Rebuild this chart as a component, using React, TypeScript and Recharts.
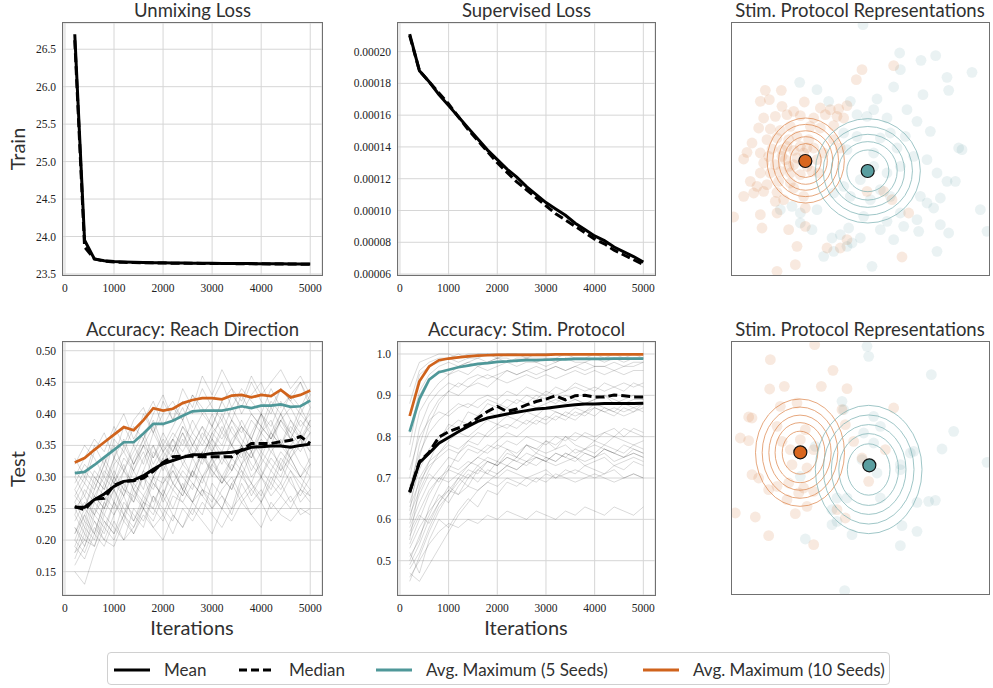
import React from 'react';
import { LineChart, Line, XAxis, YAxis, CartesianGrid, ScatterChart, Scatter } from 'recharts';

const ORANGE = '#D0631C';
const TEAL = '#4F9899';
const SANS = 'Lato, "Open Sans", sans-serif';
const SERIF = '"Liberation Serif", "DejaVu Serif", serif';

const ITER = [200, 400, 600, 800, 1000, 1200, 1400, 1600, 1800, 2000, 2200, 2400, 2600, 2800, 3000, 3200, 3400, 3600, 3800, 4000, 4200, 4400, 4600, 4800, 5000];
const X_TICKS = [0, 1000, 2000, 3000, 4000, 5000];

// Unmixing loss (train)
const UNMIX_MEAN = [26.70, 23.95, 23.70, 23.675, 23.665, 23.66, 23.655, 23.652, 23.65, 23.648, 23.646, 23.645, 23.644, 23.643, 23.642, 23.641, 23.64, 23.639, 23.638, 23.637, 23.636, 23.635, 23.634, 23.633, 23.632];
const UNMIX_MEDIAN = [26.62, 23.86, 23.70, 23.67, 23.66, 23.655, 23.652, 23.65, 23.648, 23.646, 23.644, 23.643, 23.642, 23.641, 23.64, 23.639, 23.638, 23.637, 23.636, 23.635, 23.634, 23.633, 23.632, 23.631, 23.63];

// Supervised loss (train)
const SUP_MEAN = [0.000211, 0.000188, 0.000181, 0.000173, 0.000166, 0.000159, 0.000152, 0.000145, 0.000138, 0.000132, 0.000126, 0.000121, 0.000115, 0.000110, 0.000105, 0.000101, 0.000097, 0.000092, 0.000088, 0.000084, 0.000081, 0.000077, 0.000074, 0.000071, 0.0000675];
const SUP_MEDIAN = [0.000210, 0.000188, 0.000181, 0.000174, 0.000167, 0.000159, 0.000151, 0.000144, 0.000137, 0.000130, 0.000124, 0.000118, 0.000113, 0.000108, 0.000103, 0.000098, 0.000094, 0.000090, 0.000086, 0.000082, 0.000079, 0.000075, 0.000072, 0.000069, 0.000066];

// Accuracy: reach direction (test)
const REACH_MEAN = [0.252, 0.252, 0.264, 0.273, 0.285, 0.293, 0.295, 0.302, 0.312, 0.321, 0.326, 0.331, 0.335, 0.335, 0.337, 0.338, 0.339, 0.342, 0.347, 0.348, 0.349, 0.349, 0.347, 0.350, 0.352];
const REACH_MEDIAN = [0.253, 0.248, 0.265, 0.266, 0.287, 0.293, 0.294, 0.298, 0.309, 0.323, 0.332, 0.333, 0.333, 0.332, 0.332, 0.332, 0.332, 0.343, 0.353, 0.353, 0.353, 0.356, 0.358, 0.364, 0.353];
const REACH_MAX5 = [0.306, 0.308, 0.319, 0.331, 0.343, 0.355, 0.355, 0.369, 0.384, 0.384, 0.389, 0.397, 0.404, 0.405, 0.405, 0.405, 0.408, 0.412, 0.409, 0.413, 0.413, 0.415, 0.411, 0.412, 0.421];
const REACH_MAX10 = [0.323, 0.330, 0.343, 0.355, 0.367, 0.379, 0.374, 0.390, 0.409, 0.405, 0.408, 0.417, 0.422, 0.425, 0.425, 0.423, 0.429, 0.430, 0.426, 0.430, 0.428, 0.438, 0.426, 0.430, 0.437];
const REACH_SEEDS = [
  [0.25, 0.22, 0.27, 0.30, 0.28, 0.31, 0.29, 0.33, 0.35, 0.32, 0.36, 0.34, 0.37, 0.35, 0.38, 0.36, 0.39, 0.37, 0.40, 0.38, 0.36, 0.39, 0.41, 0.38, 0.40],
  [0.20, 0.24, 0.21, 0.26, 0.24, 0.28, 0.27, 0.25, 0.30, 0.29, 0.31, 0.28, 0.33, 0.30, 0.32, 0.34, 0.31, 0.35, 0.33, 0.36, 0.34, 0.32, 0.35, 0.37, 0.34],
  [0.30, 0.33, 0.36, 0.34, 0.38, 0.35, 0.39, 0.41, 0.37, 0.40, 0.42, 0.39, 0.43, 0.41, 0.38, 0.42, 0.44, 0.40, 0.43, 0.45, 0.41, 0.44, 0.42, 0.40, 0.43],
  [0.18, 0.20, 0.19, 0.23, 0.21, 0.24, 0.22, 0.26, 0.25, 0.23, 0.27, 0.26, 0.24, 0.28, 0.27, 0.25, 0.29, 0.26, 0.28, 0.30, 0.27, 0.29, 0.26, 0.28, 0.27],
  [0.27, 0.25, 0.30, 0.28, 0.32, 0.34, 0.31, 0.35, 0.33, 0.37, 0.34, 0.38, 0.36, 0.33, 0.37, 0.39, 0.35, 0.38, 0.36, 0.40, 0.37, 0.35, 0.39, 0.36, 0.38],
  [0.15, 0.13, 0.18, 0.22, 0.20, 0.24, 0.21, 0.25, 0.23, 0.27, 0.24, 0.22, 0.26, 0.28, 0.25, 0.27, 0.24, 0.29, 0.26, 0.28, 0.25, 0.27, 0.30, 0.26, 0.28],
  [0.32, 0.35, 0.33, 0.30, 0.36, 0.34, 0.38, 0.36, 0.40, 0.43, 0.39, 0.42, 0.40, 0.44, 0.41, 0.39, 0.43, 0.41, 0.45, 0.42, 0.40, 0.44, 0.42, 0.45, 0.41],
  [0.22, 0.19, 0.24, 0.22, 0.26, 0.23, 0.28, 0.25, 0.29, 0.27, 0.31, 0.28, 0.26, 0.30, 0.33, 0.29, 0.31, 0.34, 0.30, 0.32, 0.35, 0.31, 0.33, 0.30, 0.32],
  [0.24, 0.28, 0.26, 0.31, 0.29, 0.27, 0.32, 0.35, 0.31, 0.34, 0.32, 0.36, 0.33, 0.37, 0.35, 0.32, 0.36, 0.38, 0.34, 0.37, 0.39, 0.35, 0.38, 0.36, 0.39],
  [0.19, 0.17, 0.21, 0.19, 0.23, 0.20, 0.22, 0.25, 0.22, 0.24, 0.21, 0.25, 0.23, 0.26, 0.24, 0.22, 0.25, 0.27, 0.24, 0.26, 0.23, 0.25, 0.27, 0.24, 0.25],
  [0.28, 0.31, 0.29, 0.33, 0.30, 0.35, 0.32, 0.36, 0.39, 0.35, 0.38, 0.41, 0.37, 0.40, 0.38, 0.42, 0.39, 0.43, 0.40, 0.38, 0.42, 0.40, 0.43, 0.41, 0.44],
  [0.21, 0.25, 0.23, 0.21, 0.26, 0.24, 0.29, 0.27, 0.25, 0.30, 0.28, 0.31, 0.29, 0.27, 0.32, 0.30, 0.33, 0.31, 0.29, 0.33, 0.31, 0.34, 0.32, 0.30, 0.33],
  [0.26, 0.23, 0.28, 0.32, 0.29, 0.33, 0.31, 0.28, 0.34, 0.32, 0.35, 0.33, 0.30, 0.34, 0.36, 0.33, 0.35, 0.32, 0.36, 0.34, 0.37, 0.35, 0.33, 0.36, 0.34],
  [0.17, 0.21, 0.19, 0.24, 0.22, 0.20, 0.25, 0.23, 0.27, 0.24, 0.28, 0.26, 0.29, 0.27, 0.25, 0.28, 0.30, 0.27, 0.29, 0.26, 0.30, 0.28, 0.31, 0.29, 0.27],
  [0.31, 0.29, 0.34, 0.37, 0.33, 0.38, 0.35, 0.40, 0.37, 0.42, 0.39, 0.44, 0.41, 0.46, 0.43, 0.47, 0.44, 0.42, 0.46, 0.43, 0.45, 0.47, 0.44, 0.46, 0.43],
  [0.23, 0.26, 0.24, 0.27, 0.25, 0.29, 0.26, 0.30, 0.28, 0.32, 0.29, 0.27, 0.31, 0.34, 0.30, 0.33, 0.31, 0.35, 0.32, 0.30, 0.34, 0.36, 0.33, 0.35, 0.37],
  [0.20, 0.18, 0.22, 0.20, 0.19, 0.23, 0.21, 0.24, 0.22, 0.20, 0.24, 0.22, 0.25, 0.23, 0.21, 0.25, 0.23, 0.26, 0.24, 0.22, 0.26, 0.24, 0.23, 0.25, 0.24],
  [0.29, 0.32, 0.30, 0.28, 0.33, 0.36, 0.32, 0.35, 0.38, 0.34, 0.37, 0.35, 0.39, 0.36, 0.40, 0.37, 0.41, 0.38, 0.36, 0.40, 0.38, 0.42, 0.39, 0.37, 0.41],
  [0.25, 0.27, 0.24, 0.29, 0.26, 0.31, 0.28, 0.26, 0.30, 0.33, 0.29, 0.32, 0.30, 0.34, 0.31, 0.29, 0.33, 0.35, 0.31, 0.34, 0.32, 0.30, 0.34, 0.36, 0.32],
  [0.18, 0.22, 0.20, 0.25, 0.28, 0.24, 0.27, 0.30, 0.26, 0.29, 0.32, 0.28, 0.31, 0.29, 0.33, 0.30, 0.28, 0.32, 0.34, 0.30, 0.33, 0.31, 0.35, 0.32, 0.30],
  [0.33, 0.30, 0.35, 0.32, 0.37, 0.40, 0.36, 0.39, 0.42, 0.38, 0.41, 0.39, 0.43, 0.40, 0.42, 0.45, 0.41, 0.44, 0.42, 0.40, 0.44, 0.41, 0.43, 0.45, 0.42],
  [0.22, 0.20, 0.25, 0.23, 0.21, 0.26, 0.24, 0.22, 0.27, 0.25, 0.23, 0.28, 0.26, 0.24, 0.29, 0.27, 0.25, 0.30, 0.28, 0.26, 0.29, 0.27, 0.25, 0.28, 0.26],
  [0.27, 0.30, 0.28, 0.32, 0.35, 0.31, 0.34, 0.37, 0.33, 0.36, 0.34, 0.38, 0.35, 0.33, 0.37, 0.35, 0.39, 0.36, 0.34, 0.38, 0.36, 0.40, 0.37, 0.35, 0.39],
  [0.16, 0.19, 0.23, 0.20, 0.24, 0.27, 0.23, 0.26, 0.24, 0.28, 0.25, 0.29, 0.26, 0.30, 0.27, 0.25, 0.29, 0.31, 0.27, 0.30, 0.28, 0.32, 0.29, 0.27, 0.30],
  [0.30, 0.27, 0.31, 0.29, 0.33, 0.31, 0.35, 0.32, 0.37, 0.34, 0.36, 0.39, 0.35, 0.38, 0.36, 0.40, 0.37, 0.35, 0.39, 0.37, 0.41, 0.38, 0.36, 0.40, 0.38],
  [0.24, 0.21, 0.26, 0.24, 0.28, 0.25, 0.23, 0.27, 0.30, 0.26, 0.29, 0.27, 0.31, 0.28, 0.26, 0.30, 0.28, 0.32, 0.29, 0.27, 0.31, 0.29, 0.33, 0.30, 0.28],
  [0.21, 0.24, 0.27, 0.25, 0.29, 0.32, 0.28, 0.31, 0.35, 0.31, 0.34, 0.37, 0.33, 0.36, 0.34, 0.38, 0.35, 0.33, 0.37, 0.40, 0.36, 0.39, 0.37, 0.41, 0.38],
  [0.26, 0.29, 0.27, 0.25, 0.30, 0.28, 0.26, 0.31, 0.29, 0.27, 0.32, 0.30, 0.28, 0.33, 0.31, 0.29, 0.32, 0.30, 0.34, 0.31, 0.29, 0.33, 0.31, 0.28, 0.32],
  [0.19, 0.23, 0.21, 0.26, 0.30, 0.27, 0.31, 0.34, 0.30, 0.33, 0.36, 0.32, 0.35, 0.38, 0.34, 0.37, 0.35, 0.39, 0.36, 0.33, 0.37, 0.40, 0.36, 0.39, 0.37],
  [0.28, 0.25, 0.29, 0.27, 0.31, 0.28, 0.33, 0.36, 0.32, 0.35, 0.33, 0.37, 0.34, 0.32, 0.36, 0.34, 0.38, 0.35, 0.33, 0.37, 0.35, 0.39, 0.36, 0.34, 0.37],
];

// Accuracy: stim. protocol (test)
const STIM_MEAN = [0.667, 0.737, 0.760, 0.784, 0.798, 0.812, 0.825, 0.837, 0.845, 0.850, 0.855, 0.859, 0.863, 0.867, 0.869, 0.872, 0.875, 0.877, 0.879, 0.879, 0.880, 0.880, 0.880, 0.880, 0.881];
const STIM_MEDIAN = [0.665, 0.740, 0.762, 0.799, 0.812, 0.821, 0.829, 0.845, 0.861, 0.873, 0.861, 0.867, 0.877, 0.885, 0.891, 0.899, 0.889, 0.899, 0.900, 0.896, 0.896, 0.901, 0.899, 0.896, 0.896];
const STIM_MAX5 = [0.812, 0.891, 0.938, 0.956, 0.962, 0.968, 0.972, 0.976, 0.978, 0.981, 0.982, 0.984, 0.985, 0.985, 0.986, 0.987, 0.987, 0.988, 0.988, 0.988, 0.988, 0.989, 0.989, 0.989, 0.989];
const STIM_MAX10 = [0.850, 0.934, 0.970, 0.985, 0.989, 0.992, 0.994, 0.996, 0.997, 0.998, 0.998, 0.998, 0.998, 0.998, 0.998, 0.999, 0.999, 0.999, 0.999, 0.999, 0.999, 0.999, 0.999, 0.999, 0.999];
const STIM_SEEDS = [
  [0.92, 0.98, 0.99, 1.00, 1.00, 0.99, 1.00, 1.00, 1.00, 1.00, 1.00, 1.00, 1.00, 1.00, 1.00, 1.00, 1.00, 1.00, 1.00, 1.00, 1.00, 1.00, 1.00, 1.00, 1.00],
  [0.85, 0.95, 0.97, 0.98, 0.99, 0.98, 0.99, 0.99, 1.00, 0.99, 1.00, 1.00, 0.99, 1.00, 1.00, 1.00, 1.00, 1.00, 1.00, 1.00, 1.00, 1.00, 1.00, 1.00, 1.00],
  [0.78, 0.90, 0.94, 0.96, 0.95, 0.97, 0.98, 0.97, 0.98, 0.99, 0.98, 0.99, 0.99, 0.98, 0.99, 0.99, 1.00, 0.99, 0.99, 1.00, 0.99, 1.00, 0.99, 1.00, 0.99],
  [0.62, 0.75, 0.83, 0.88, 0.91, 0.93, 0.92, 0.94, 0.95, 0.94, 0.96, 0.95, 0.96, 0.97, 0.96, 0.97, 0.96, 0.97, 0.98, 0.97, 0.97, 0.98, 0.97, 0.98, 0.98],
  [0.55, 0.68, 0.74, 0.79, 0.83, 0.82, 0.86, 0.85, 0.88, 0.87, 0.89, 0.88, 0.90, 0.89, 0.91, 0.90, 0.91, 0.92, 0.91, 0.92, 0.91, 0.92, 0.93, 0.92, 0.93],
  [0.48, 0.52, 0.58, 0.63, 0.66, 0.70, 0.68, 0.72, 0.74, 0.73, 0.76, 0.75, 0.78, 0.77, 0.79, 0.78, 0.80, 0.79, 0.81, 0.80, 0.81, 0.82, 0.80, 0.82, 0.81],
  [0.52, 0.47, 0.55, 0.60, 0.58, 0.62, 0.65, 0.63, 0.67, 0.66, 0.69, 0.68, 0.70, 0.69, 0.71, 0.70, 0.72, 0.71, 0.73, 0.72, 0.71, 0.73, 0.72, 0.74, 0.73],
  [0.58, 0.64, 0.69, 0.72, 0.75, 0.74, 0.77, 0.76, 0.78, 0.77, 0.79, 0.78, 0.80, 0.79, 0.78, 0.80, 0.79, 0.81, 0.80, 0.79, 0.81, 0.80, 0.82, 0.81, 0.80],
  [0.46, 0.50, 0.54, 0.57, 0.59, 0.58, 0.60, 0.59, 0.61, 0.60, 0.62, 0.61, 0.60, 0.62, 0.61, 0.60, 0.62, 0.61, 0.63, 0.62, 0.61, 0.63, 0.62, 0.61, 0.63],
  [0.70, 0.82, 0.88, 0.91, 0.93, 0.92, 0.94, 0.95, 0.94, 0.95, 0.96, 0.95, 0.96, 0.95, 0.96, 0.97, 0.96, 0.97, 0.96, 0.97, 0.97, 0.96, 0.97, 0.97, 0.98],
  [0.60, 0.70, 0.74, 0.76, 0.78, 0.77, 0.79, 0.81, 0.80, 0.82, 0.83, 0.82, 0.84, 0.83, 0.85, 0.84, 0.86, 0.85, 0.86, 0.87, 0.86, 0.87, 0.86, 0.87, 0.88],
  [0.50, 0.56, 0.61, 0.66, 0.64, 0.68, 0.71, 0.69, 0.72, 0.71, 0.73, 0.72, 0.74, 0.75, 0.74, 0.76, 0.75, 0.74, 0.76, 0.75, 0.77, 0.76, 0.75, 0.77, 0.76],
  [0.66, 0.78, 0.85, 0.89, 0.91, 0.90, 0.92, 0.93, 0.92, 0.94, 0.93, 0.94, 0.95, 0.94, 0.95, 0.94, 0.95, 0.96, 0.95, 0.96, 0.95, 0.96, 0.95, 0.96, 0.96],
  [0.54, 0.60, 0.66, 0.70, 0.72, 0.71, 0.73, 0.75, 0.74, 0.73, 0.75, 0.74, 0.76, 0.75, 0.74, 0.76, 0.75, 0.77, 0.76, 0.75, 0.77, 0.76, 0.75, 0.76, 0.75],
  [0.47, 0.45, 0.49, 0.53, 0.57, 0.61, 0.64, 0.67, 0.69, 0.71, 0.73, 0.72, 0.74, 0.73, 0.75, 0.74, 0.76, 0.75, 0.77, 0.76, 0.78, 0.77, 0.76, 0.78, 0.77],
  [0.75, 0.86, 0.90, 0.93, 0.95, 0.96, 0.95, 0.97, 0.96, 0.97, 0.98, 0.97, 0.98, 0.98, 0.97, 0.98, 0.99, 0.98, 0.98, 0.99, 0.98, 0.99, 0.98, 0.99, 0.99],
  [0.57, 0.62, 0.67, 0.70, 0.69, 0.71, 0.70, 0.72, 0.71, 0.70, 0.72, 0.71, 0.70, 0.71, 0.72, 0.70, 0.71, 0.72, 0.71, 0.70, 0.71, 0.72, 0.70, 0.71, 0.70],
  [0.64, 0.72, 0.77, 0.80, 0.82, 0.84, 0.83, 0.85, 0.86, 0.85, 0.87, 0.86, 0.88, 0.87, 0.88, 0.89, 0.88, 0.89, 0.88, 0.89, 0.90, 0.89, 0.88, 0.89, 0.89],
  [0.51, 0.55, 0.63, 0.68, 0.72, 0.76, 0.79, 0.78, 0.81, 0.83, 0.82, 0.84, 0.83, 0.85, 0.84, 0.86, 0.85, 0.84, 0.86, 0.85, 0.87, 0.86, 0.85, 0.86, 0.87],
  [0.59, 0.66, 0.71, 0.69, 0.73, 0.72, 0.74, 0.73, 0.75, 0.74, 0.73, 0.75, 0.74, 0.76, 0.75, 0.74, 0.76, 0.75, 0.74, 0.75, 0.76, 0.74, 0.75, 0.76, 0.75],
  [0.81, 0.91, 0.95, 0.97, 0.98, 0.97, 0.98, 0.99, 0.98, 0.99, 0.99, 0.98, 0.99, 0.99, 0.99, 0.98, 0.99, 0.99, 0.99, 0.99, 0.99, 0.99, 0.99, 0.99, 0.99],
  [0.53, 0.58, 0.62, 0.65, 0.67, 0.66, 0.68, 0.67, 0.69, 0.68, 0.70, 0.69, 0.68, 0.70, 0.69, 0.71, 0.70, 0.69, 0.70, 0.71, 0.70, 0.69, 0.70, 0.71, 0.70],
  [0.68, 0.76, 0.81, 0.84, 0.86, 0.88, 0.87, 0.89, 0.90, 0.89, 0.91, 0.90, 0.92, 0.91, 0.90, 0.92, 0.91, 0.93, 0.92, 0.91, 0.93, 0.92, 0.91, 0.93, 0.92],
  [0.56, 0.61, 0.59, 0.64, 0.68, 0.66, 0.70, 0.73, 0.71, 0.74, 0.77, 0.75, 0.78, 0.76, 0.79, 0.77, 0.80, 0.78, 0.77, 0.79, 0.78, 0.80, 0.79, 0.78, 0.79],
  [0.72, 0.80, 0.84, 0.86, 0.85, 0.87, 0.88, 0.87, 0.89, 0.88, 0.87, 0.89, 0.88, 0.90, 0.89, 0.88, 0.90, 0.89, 0.88, 0.89, 0.90, 0.88, 0.89, 0.90, 0.89],
  [0.49, 0.54, 0.60, 0.64, 0.67, 0.70, 0.73, 0.75, 0.77, 0.79, 0.81, 0.80, 0.82, 0.84, 0.83, 0.85, 0.84, 0.86, 0.85, 0.87, 0.86, 0.85, 0.87, 0.86, 0.88],
  [0.63, 0.69, 0.73, 0.75, 0.77, 0.76, 0.78, 0.77, 0.76, 0.78, 0.77, 0.76, 0.78, 0.77, 0.76, 0.77, 0.78, 0.76, 0.77, 0.78, 0.77, 0.76, 0.78, 0.77, 0.76],
  [0.88, 0.96, 0.98, 0.99, 0.99, 1.00, 0.99, 1.00, 1.00, 1.00, 1.00, 1.00, 1.00, 1.00, 1.00, 1.00, 1.00, 1.00, 1.00, 1.00, 1.00, 1.00, 1.00, 1.00, 1.00],
  [0.45, 0.51, 0.57, 0.62, 0.66, 0.69, 0.72, 0.71, 0.74, 0.73, 0.75, 0.74, 0.73, 0.75, 0.74, 0.73, 0.74, 0.75, 0.73, 0.74, 0.75, 0.73, 0.74, 0.75, 0.74],
  [0.61, 0.67, 0.72, 0.76, 0.79, 0.81, 0.80, 0.82, 0.84, 0.83, 0.85, 0.84, 0.86, 0.85, 0.87, 0.86, 0.85, 0.87, 0.86, 0.88, 0.87, 0.86, 0.88, 0.87, 0.86],
];

// Representation scatter (arbitrary embedding units)
const TOP_ORANGE_PTS = [
  [48.5, 62.0], [58.0, 63.2], [46.8, 59.0], [19.5, 55.8], [24.3, 55.8], [18.0, 52.5], [20.7, 53.0], [31.2, 52.3], [24.5, 51.0], [28.0, 49.5],
  [36.0, 50.5], [41.5, 50.2], [44.0, 51.2], [39.0, 50.0], [19.0, 47.5], [22.5, 48.0], [26.0, 48.5], [30.0, 48.2], [34.0, 47.5], [37.5, 48.5],
  [41.0, 48.0], [43.0, 47.5], [17.5, 44.5], [21.0, 44.2], [24.0, 43.8], [27.0, 45.0], [33.0, 45.0], [36.0, 44.5], [40.0, 45.2], [20.0, 41.0],
  [23.0, 41.5], [26.5, 41.0], [29.0, 42.0], [32.5, 41.0], [15.5, 40.0], [14.0, 37.2], [13.0, 35.2], [18.0, 37.0], [21.5, 38.2], [24.5, 38.0],
  [28.0, 37.8], [30.0, 39.0], [34.0, 38.5], [37.0, 37.0], [19.0, 34.0], [22.5, 33.5], [25.5, 35.0], [28.0, 33.5], [32.0, 33.0], [35.0, 35.0],
  [18.0, 31.0], [21.0, 31.0], [24.0, 31.5], [27.0, 31.0], [30.0, 30.5], [33.5, 31.5], [15.0, 28.5], [17.0, 27.0], [20.0, 27.5], [23.5, 28.5],
  [27.0, 28.0], [13.0, 24.0], [16.0, 25.0], [19.0, 25.5], [23.0, 25.2], [28.0, 26.5], [22.5, 22.5], [25.0, 23.0], [31.0, 24.0], [23.0, 19.0],
  [31.5, 20.5], [18.0, 18.5], [10.0, 17.8], [18.5, 14.5], [26.5, 14.0], [31.5, 15.0], [29.0, 9.0], [38.0, 8.5], [42.0, 8.5], [50.0, 25.5],
  [55.0, 25.5], [57.5, 23.0], [62.5, 19.0], [44.0, 11.0], [60.5, 5.8], [28.5, 3.5], [23.0, 1.5], [40.0, 41.0], [42.0, 38.5], [35.5, 31.0],
  [26.0, 39.0], [31.0, 37.0], [29.0, 35.5], [24.5, 36.0], [32.0, 38.5], [26.5, 33.0], [20.5, 36.0],
];
const TOP_TEAL_PTS = [
  [48.8, 75.5], [59.8, 67.0], [70.6, 66.2], [66.2, 64.8], [60.0, 62.0], [81.5, 61.2], [74.0, 59.7], [58.0, 56.8], [74.5, 55.8], [66.8, 54.5],
  [35.0, 56.0], [29.8, 58.2], [45.0, 52.5], [53.0, 53.2], [62.0, 50.0], [52.0, 50.0], [38.5, 52.5], [47.0, 48.5], [50.0, 48.0], [56.0, 47.5],
  [65.0, 46.5], [69.0, 43.5], [61.5, 42.0], [57.0, 43.0], [54.0, 41.5], [47.0, 42.0], [43.0, 43.0], [44.0, 38.0], [52.0, 37.0], [59.0, 38.5],
  [64.0, 36.0], [68.0, 35.0], [78.5, 38.0], [77.5, 38.5], [71.0, 31.0], [74.0, 28.5], [76.5, 28.5], [56.0, 31.0], [48.0, 29.0], [43.0, 27.0],
  [40.0, 25.0], [45.0, 24.0], [51.0, 23.0], [57.0, 24.0], [66.0, 24.0], [72.0, 23.5], [68.0, 22.0], [84.0, 20.0], [86.0, 13.5], [74.5, 13.0],
  [72.0, 15.5], [65.5, 13.5], [61.0, 15.0], [56.0, 16.5], [49.0, 18.0], [44.5, 14.5], [42.0, 12.5], [39.5, 11.5], [45.5, 10.0], [48.0, 11.5],
  [37.0, 6.0], [40.0, 7.5], [44.0, 9.0], [51.5, 3.0], [58.0, 11.0], [71.0, 7.5], [30.0, 16.0], [33.5, 14.0], [27.5, 21.0], [24.0, 20.0],
  [30.0, 19.0], [35.0, 20.0], [54.0, 14.0], [60.0, 19.0], [70.0, 20.5], [65.0, 17.0], [52.0, 33.0], [60.0, 33.0], [54.0, 26.0],
];
const BOT_ORANGE_PTS = [
  [34.3, 75.5], [21.0, 71.0], [39.8, 67.8], [20.8, 62.2], [25.2, 63.0], [36.3, 63.0], [44.0, 62.3], [24.0, 57.0], [29.0, 58.0], [14.5, 53.8],
  [15.5, 53.5], [12.0, 47.5], [14.5, 46.7], [24.5, 46.5], [23.0, 51.0], [31.5, 50.0], [30.0, 47.0], [27.0, 44.0], [34.0, 44.0], [55.5, 44.0],
  [58.0, 56.5], [42.5, 56.0], [43.5, 51.5], [46.0, 46.5], [27.5, 39.5], [32.0, 38.5], [15.5, 36.5], [17.5, 35.5], [20.5, 32.0], [23.0, 33.0],
  [26.5, 34.0], [31.0, 32.5], [34.0, 31.5], [26.0, 29.0], [29.5, 31.0], [32.0, 27.0], [10.5, 25.0], [16.5, 23.8], [28.5, 24.8], [41.0, 26.0],
  [43.5, 23.5], [50.5, 34.5], [20.5, 18.2], [34.0, 15.5], [48.5, 41.5],
];
const BOT_TEAL_PTS = [
  [50.0, 75.0], [50.5, 72.0], [69.3, 66.5], [42.5, 58.5], [43.0, 56.0], [52.0, 54.0], [54.0, 51.0], [49.0, 49.0], [76.0, 49.5], [72.5, 44.2],
  [64.0, 43.5], [34.5, 45.0], [48.5, 41.0], [53.0, 37.0], [60.0, 39.5], [60.0, 38.0], [86.0, 40.2], [65.0, 28.2], [68.5, 28.5], [70.5, 28.8],
  [41.0, 29.5], [44.0, 29.5], [39.5, 26.0], [41.0, 22.5], [39.5, 21.5], [54.0, 29.5], [60.5, 21.2], [65.0, 19.5], [45.5, 18.5], [31.5, 17.2],
  [60.0, 15.2], [43.3, 1.7], [30.0, 36.0], [52.0, 46.0], [63.0, 43.0],
];
// class centers and gaussian contour extents (outer ring half-widths)
const TOP_CENTERS = [{ x: 31.5, y: 34.6, c: 'o' }, { x: 50.2, y: 31.6, c: 't' }];
const TOP_CONTOURS = [{ x: 31.6, y: 34.75, rx: 11.6, ry: 12.75, c: 'o' }, { x: 50.25, y: 31.65, rx: 15.75, ry: 15.65, c: 't' }];
const BOT_CENTERS = [{ x: 30.0, y: 43.2, c: 'o' }, { x: 50.7, y: 39.3, c: 't' }];
const BOT_CONTOURS = [{ x: 29.9, y: 43.1, rx: 13.35, ry: 16.1, c: 'o' }, { x: 50.5, y: 38.05, rx: 16.0, ry: 19.25, c: 't' }];
const RING_LEVELS = [1, 0.85, 0.7, 0.56, 0.4];

const SC_XDOM: [number, number] = [9.5, 86.6];
const TOP_YDOM: [number, number] = [0.4, 76.0];
const BOT_YDOM: [number, number] = [0.7, 76.3];
const SC_W = 257;
const SC_H = 252;

function buildRows(series: Record<string, number[]>, seeds: number[][] = []) {
  return ITER.map((it, i) => {
    const row: Record<string, number> = { it };
    Object.keys(series).forEach((k) => { row[k] = series[k][i]; });
    seeds.forEach((s, j) => { row['s' + j] = s[i]; });
    return row;
  });
}

const tickStyle = { fontFamily: SERIF, fontSize: 11.5, fill: '#222' };

type Rect = { x: number; y: number; w: number; h: number };

function Frame({ r }: { r: Rect }) {
  return (
    <div style={{ position: 'absolute', left: r.x - 1, top: r.y - 1, width: r.w + 2, height: r.h + 2, border: '1.6px solid #707070', boxSizing: 'border-box', pointerEvents: 'none' }} />
  );
}

function Title({ r, text }: { r: Rect; text: string }) {
  return (
    <div style={{ position: 'absolute', left: r.x - 40, width: r.w + 80, top: r.y - 24, height: 22, lineHeight: '22px', textAlign: 'center', fontFamily: SANS, fontSize: 18.5, color: '#303030', whiteSpace: 'nowrap' }}>{text}</div>
  );
}

function LinePanel({ r, yW, yDomain, yTicks, fmt, rows, seedCount, withMax }: {
  r: Rect; yW: number; yDomain: [number, number]; yTicks: number[]; fmt: (v: number) => string;
  rows: Record<string, number>[]; seedCount: number; withMax: boolean;
}) {
  const seedKeys = Array.from({ length: seedCount }, (_, j) => 's' + j);
  return (
    <div style={{ position: 'absolute', left: r.x - yW, top: r.y - 5 }}>
      <LineChart width={yW + r.w} height={r.h + 35} data={rows} margin={{ top: 5, right: 0, bottom: 0, left: 0 }}>
        <CartesianGrid stroke="#d6d6d6" strokeWidth={1} />
        <XAxis dataKey="it" type="number" domain={[-40, 5240]} ticks={X_TICKS} allowDataOverflow
          tickLine={false} axisLine={false} tickSize={0} tickMargin={9} height={30} tick={tickStyle} interval={0} />
        <YAxis type="number" domain={yDomain} ticks={yTicks} allowDataOverflow tickFormatter={fmt}
          tickLine={false} axisLine={false} tickSize={0} tickMargin={7} width={yW} tick={tickStyle} interval={0} />
        {seedKeys.map((k) => (
          <Line key={k} dataKey={k} stroke="#000" strokeOpacity={0.17} strokeWidth={0.9} dot={false} activeDot={false} isAnimationActive={false} />
        ))}
        {withMax && <Line dataKey="max5" stroke={TEAL} strokeWidth={2.7} dot={false} activeDot={false} isAnimationActive={false} />}
        {withMax && <Line dataKey="max10" stroke={ORANGE} strokeWidth={2.7} dot={false} activeDot={false} isAnimationActive={false} />}
        <Line dataKey="median" stroke="#000" strokeWidth={3} strokeDasharray="9 4" dot={false} activeDot={false} isAnimationActive={false} />
        <Line dataKey="mean" stroke="#000" strokeWidth={3} dot={false} activeDot={false} isAnimationActive={false} />
      </LineChart>
    </div>
  );
}

const pxPerUnit = SC_W / (SC_XDOM[1] - SC_XDOM[0]);

function ContourShape(props: any) {
  const { cx, cy, payload } = props;
  const col = payload.c === 'o' ? '#DD8A52' : '#7FB3B4';
  return (
    <g>
      {RING_LEVELS.map((lv, i) => (
        <ellipse key={i} cx={cx} cy={cy} rx={payload.rx * lv * pxPerUnit} ry={payload.ry * lv * pxPerUnit}
          fill="none" stroke={col} strokeOpacity={0.75} strokeWidth={1} />
      ))}
    </g>
  );
}

function CenterShape(props: any) {
  const { cx, cy, payload } = props;
  return <circle cx={cx} cy={cy} r={6.5} fill={payload.c === 'o' ? '#D9661E' : '#5A9EA0'} stroke="#111" strokeWidth={1.2} />;
}

const orangeDot = (p: any) => <circle cx={p.cx} cy={p.cy} r={5.4} fill={ORANGE} fillOpacity={0.14} />;
const tealDot = (p: any) => <circle cx={p.cx} cy={p.cy} r={5.4} fill={TEAL} fillOpacity={0.12} />;

function ScatterPanel({ r, yDomain, orange, teal, centers, contours }: {
  r: Rect; yDomain: [number, number]; orange: number[][]; teal: number[][];
  centers: { x: number; y: number; c: string }[]; contours: { x: number; y: number; rx: number; ry: number; c: string }[];
}) {
  const o = orange.map(([x, y]) => ({ x, y }));
  const t = teal.map(([x, y]) => ({ x, y }));
  return (
    <div style={{ position: 'absolute', left: r.x, top: r.y }}>
      <ScatterChart width={r.w} height={r.h} margin={{ top: 0, right: 0, bottom: 0, left: 0 }}>
        <XAxis dataKey="x" type="number" domain={SC_XDOM} allowDataOverflow hide />
        <YAxis dataKey="y" type="number" domain={yDomain} allowDataOverflow hide />
        <Scatter data={t} shape={tealDot} isAnimationActive={false} />
        <Scatter data={o} shape={orangeDot} isAnimationActive={false} />
        <Scatter data={contours} shape={ContourShape} isAnimationActive={false} />
        <Scatter data={centers} shape={CenterShape} isAnimationActive={false} />
      </ScatterChart>
    </div>
  );
}

function LegendItem({ x, label, color, dash }: { x: number; label: string; color: string; dash?: string }) {
  return (
    <div style={{ position: 'absolute', left: x, top: 0, height: 33, display: 'flex', alignItems: 'center' }}>
      <svg width={36} height={10} style={{ marginRight: 14 }}>
        <line x1={0} y1={5} x2={36} y2={5} stroke={color} strokeWidth={2.8} strokeDasharray={dash} />
      </svg>
      <span style={{ fontFamily: SANS, fontSize: 17, color: '#303030', whiteSpace: 'nowrap' }}>{label}</span>
    </div>
  );
}

export default function App() {
  const P1: Rect = { x: 63, y: 23, w: 259, h: 252 };
  const P2: Rect = { x: 398, y: 23, w: 257, h: 252 };
  const P3: Rect = { x: 731.5, y: 23, w: SC_W, h: SC_H };
  const P4: Rect = { x: 63, y: 342, w: 259, h: 253 };
  const P5: Rect = { x: 398, y: 342, w: 257, h: 253 };
  const P6: Rect = { x: 731.5, y: 342, w: SC_W, h: SC_H };

  const unmixRows = buildRows({ mean: UNMIX_MEAN, median: UNMIX_MEDIAN });
  const supRows = buildRows({ mean: SUP_MEAN, median: SUP_MEDIAN });
  const reachRows = buildRows({ mean: REACH_MEAN, median: REACH_MEDIAN, max5: REACH_MAX5, max10: REACH_MAX10 }, REACH_SEEDS);
  const stimRows = buildRows({ mean: STIM_MEAN, median: STIM_MEDIAN, max5: STIM_MAX5, max10: STIM_MAX10 }, STIM_SEEDS);

  const axisLabel = { position: 'absolute' as const, fontFamily: SANS, fontSize: 20, color: '#303030', whiteSpace: 'nowrap' as const };

  return (
    <div style={{ position: 'absolute', left: 0, top: 0, width: 993, height: 688, background: '#fff', overflow: 'hidden' }}>
      <LinePanel r={P1} yW={63} yDomain={[23.486, 26.85]} yTicks={[23.5, 24.0, 24.5, 25.0, 25.5, 26.0, 26.5]}
        fmt={(v) => v.toFixed(1)} rows={unmixRows} seedCount={0} withMax={false} />
      <LinePanel r={P2} yW={66} yDomain={[0.0000594, 0.000218]} yTicks={[0.00006, 0.00008, 0.0001, 0.00012, 0.00014, 0.00016, 0.00018, 0.0002]}
        fmt={(v) => v.toFixed(5)} rows={supRows} seedCount={0} withMax={false} />
      <LinePanel r={P4} yW={63} yDomain={[0.113, 0.5138]} yTicks={[0.15, 0.2, 0.25, 0.3, 0.35, 0.4, 0.45, 0.5]}
        fmt={(v) => v.toFixed(2)} rows={reachRows} seedCount={REACH_SEEDS.length} withMax />
      <LinePanel r={P5} yW={66} yDomain={[0.417, 1.029]} yTicks={[0.5, 0.6, 0.7, 0.8, 0.9, 1.0]}
        fmt={(v) => v.toFixed(1)} rows={stimRows} seedCount={STIM_SEEDS.length} withMax />
      <ScatterPanel r={P3} yDomain={TOP_YDOM} orange={TOP_ORANGE_PTS} teal={TOP_TEAL_PTS} centers={TOP_CENTERS} contours={TOP_CONTOURS} />
      <ScatterPanel r={P6} yDomain={BOT_YDOM} orange={BOT_ORANGE_PTS} teal={BOT_TEAL_PTS} centers={BOT_CENTERS} contours={BOT_CONTOURS} />

      {[P1, P2, P3, P4, P5, P6].map((r, i) => <Frame key={i} r={r} />)}

      <Title r={P1} text="Unmixing Loss" />
      <Title r={P2} text="Supervised Loss" />
      <Title r={P3} text="Stim. Protocol Representations" />
      <Title r={P4} text="Accuracy: Reach Direction" />
      <Title r={P5} text="Accuracy: Stim. Protocol" />
      <Title r={P6} text="Stim. Protocol Representations" />

      <div style={{ ...axisLabel, left: 17, top: 149, transform: 'translate(-50%, -50%) rotate(-90deg)' }}>Train</div>
      <div style={{ ...axisLabel, left: 17, top: 469, transform: 'translate(-50%, -50%) rotate(-90deg)' }}>Test</div>
      <div style={{ ...axisLabel, left: 192, top: 627, transform: 'translate(-50%, -50%)' }}>Iterations</div>
      <div style={{ ...axisLabel, left: 526, top: 627, transform: 'translate(-50%, -50%)' }}>Iterations</div>

      <div style={{ position: 'absolute', left: 107, top: 652, width: 783, height: 33, border: '1px solid #d0d0d0', borderRadius: 4, boxSizing: 'border-box' }}>
        <LegendItem x={6} label="Mean" color="#000" />
        <LegendItem x={131} label="Median" color="#000" dash="8 4" />
        <LegendItem x={268} label="Avg. Maximum (5 Seeds)" color={TEAL} />
        <LegendItem x={535} label="Avg. Maximum (10 Seeds)" color={ORANGE} />
      </div>
    </div>
  );
}
